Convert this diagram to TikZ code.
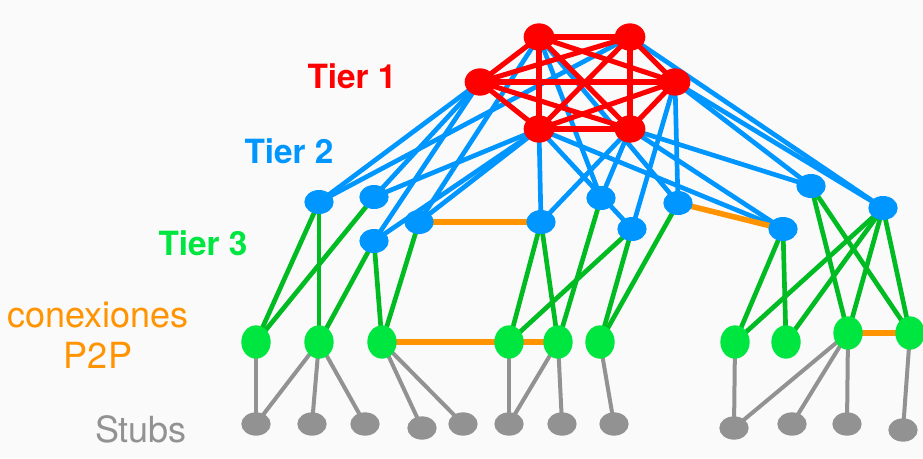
\documentclass[tikz,border=0pt]{standalone}
\usepackage{fontspec}
\setmainfont{TeX Gyre Heros}
\usetikzlibrary{shapes.geometric,backgrounds}
\definecolor{bgc}{HTML}{FAFAFA}
\definecolor{tred}{HTML}{FF0000}
\definecolor{tblue}{HTML}{0096FF}
\definecolor{tgreenn}{HTML}{00E640}
\definecolor{tgreenl}{HTML}{00BB22}
\definecolor{torange}{HTML}{FF9300}
\definecolor{tgray}{HTML}{929292}
\tikzset{
  rednode/.style={ellipse,fill=tred,inner sep=0pt,minimum width=23pt,minimum height=20.5pt},
  bluenode/.style={ellipse,fill=tblue,inner sep=0pt,minimum width=22pt,minimum height=18pt},
  greennode/.style={ellipse,fill=tgreenn,inner sep=0pt,minimum width=22pt,minimum height=25pt},
  graynode/.style={ellipse,fill=tgray,inner sep=0pt,minimum width=22pt,minimum height=17.5pt},
  redline/.style={draw=tred,line width=3.8pt},
  blueline/.style={draw=tblue,line width=3.5pt},
  greenline/.style={draw=tgreenl,line width=3.5pt},
  grayline/.style={draw=tgray,line width=3pt},
  p2pline/.style={draw=torange,line width=4.2pt},
  tierlabel/.style={font=\fontsize{25}{30}\selectfont\bfseries,anchor=base,inner sep=0pt},
  sidelabel/.style={font=\fontsize{27}{31}\selectfont,anchor=base,inner sep=0pt}
}
\begin{document}
\begin{tikzpicture}[x=0.75pt,y=-0.75pt]
\useasboundingbox (0,0) rectangle (923,458);
% Tier 1
\node[rednode] (A) at (539,37) {};
\node[rednode] (B) at (630,37) {};
\node[rednode] (C) at (480,82) {};
\node[rednode] (D) at (675,82) {};
\node[rednode] (E) at (539,129) {};
\node[rednode] (F) at (630,129) {};
% Tier 2
\node[bluenode] (b1) at (319,202) {};
\node[bluenode] (b2) at (374,197) {};
\node[bluenode] (b3) at (374,241) {};
\node[bluenode] (b4) at (419,222) {};
\node[bluenode] (b5) at (541,222) {};
\node[bluenode] (b6) at (601,198) {};
\node[bluenode] (b7) at (632,229) {};
\node[bluenode] (b8) at (678,203) {};
\node[bluenode] (b9) at (783,229) {};
\node[bluenode] (b10) at (811,186) {};
\node[bluenode] (b11) at (883,208) {};
% Tier 3
\node[greennode] (g1) at (256,342) {};
\node[greennode] (g2) at (319,342) {};
\node[greennode] (g3) at (382,342) {};
\node[greennode] (g4) at (509,342) {};
\node[greennode] (g5) at (558,342) {};
\node[greennode] (g6) at (600,342) {};
\node[greennode] (g7) at (735,342) {};
\node[greennode] (g8) at (786,342) {};
\node[greennode] (g9) at (848,333) {};
\node[greennode] (g10) at (910,333) {};
% Stubs
\node[graynode] (s1) at (256,424) {};
\node[graynode] (s2) at (312,424) {};
\node[graynode] (s3) at (365,424) {};
\node[graynode] (s4) at (422,428) {};
\node[graynode] (s5) at (463,424) {};
\node[graynode] (s6) at (509,424) {};
\node[graynode] (s7) at (562,424) {};
\node[graynode] (s8) at (614,424) {};
\node[graynode] (s9) at (734,428) {};
\node[graynode] (s10) at (792,424) {};
\node[graynode] (s11) at (847,424) {};
\node[graynode] (s12) at (903,430) {};
% labels
\node[tierlabel,text=tred] (l1) at (352,88) {Tier 1};
\node[tierlabel,text=tblue] (l2) at (289,163) {Tier 2};
\node[tierlabel,text=tgreenn] (l3) at (203,255) {Tier 3};
\node[sidelabel,text=torange] (l4) at (98,327) {conexiones};
\node[sidelabel,text=torange] (l5) at (98,368) {P2P};
\node[sidelabel,text=tgray] (l6) at (141,442) {Stubs};
\begin{scope}[on background layer]
\fill[bgc] (0,0) rectangle (923,458);
% blue
\foreach \u/\v in {b1/C,b1/B,b2/C,b2/E,b3/C,b3/E,b4/A,b4/E,b5/E,b5/F,b6/A,b6/F,b7/D,b7/E,b8/D,b8/A,b9/E,b9/F,b10/D,b10/F,b11/B,b11/D}
  \draw[blueline] (\u.center) -- (\v.center);
% green
\foreach \u/\v in {b1/g1,b1/g2,b2/g1,b3/g2,b3/g3,b4/g3,b5/g4,b5/g5,b6/g5,b7/g4,b7/g6,b8/g6,b9/g7,b9/g8,b10/g9,b10/g10,b11/g7,b11/g8,b11/g9,b11/g10}
  \draw[greenline] (\u.center) -- (\v.center);
% gray
\foreach \u/\v in {g1/s1,g2/s1,g2/s2,g2/s3,g3/s4,g3/s5,g4/s6,g5/s6,g5/s7,g6/s8,g7/s9,g9/s9,g9/s10,g9/s11,g10/s12}
  \draw[grayline] (\u.center) -- (\v.center);
% p2p
\foreach \u/\v in {b4/b5,b8/b9,g3/g5,g9/g10}
  \draw[p2pline] (\u.center) -- (\v.center);
% red full mesh
\foreach \u/\v in {A/B,A/C,A/D,A/E,A/F,B/C,B/D,B/E,B/F,C/D,C/E,C/F,D/E,D/F,E/F}
  \draw[redline] (\u.center) -- (\v.center);
\end{scope}
\end{tikzpicture}
\end{document}
